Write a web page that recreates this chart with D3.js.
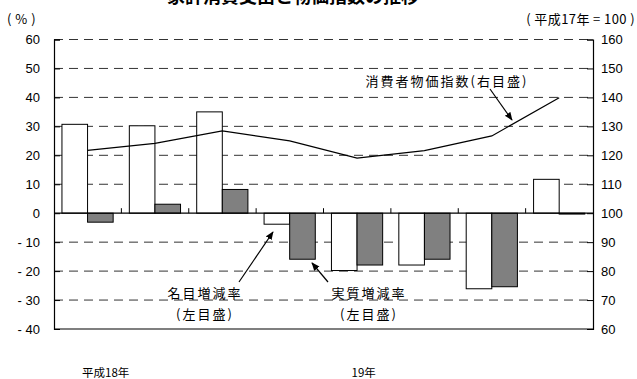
<!DOCTYPE html>
<html>
<head>
<meta charset="utf-8">
<script src="https://cdn.jsdelivr.net/npm/d3@7/dist/d3.min.js"></script>
<style>
  html, body { margin: 0; padding: 0; background: #fff; }
  svg { display: block; }
  text { font-family: "Liberation Sans", Arial, "Noto Sans CJK JP", sans-serif; fill: #000; }
  .jp { font-family: "Noto Sans CJK JP", sans-serif; }
</style>
</head>
<body>
<svg id="chart" width="637" height="379"></svg>
<script>
// Periods (8 quarters), nominal & real change (left axis, %), CPI (right axis, H17=100)
const periods = ["Q1", "Q2", "Q3", "Q4", "Q5", "Q6", "Q7", "Q8"];
const nominalRate = [30.7, 30.2, 35.0, -3.8, -19.8, -17.9, -26.1, 11.7];
const realRate = [-3.1, 3.1, 8.2, -15.9, -17.9, -15.9, -25.4, -0.3];
const cpiIndex = [121.7, 124.1, 128.4, 125.0, 119.0, 121.6, 126.7, 139.9];
const leftTicks = [60, 50, 40, 30, 20, 10, 0, -10, -20, -30, -40];
const rightTicks = [160, 150, 140, 130, 120, 110, 100, 90, 80, 70, 60];
const yearLabels = [{ period: "Q1", text: "平成18年" }, { period: "Q5", text: "19年" }];

const svg = d3.select("#chart");
const m = { left: 54, right: 593, top: 39.5, bottom: 329 };

const x = d3.scaleBand().domain(periods).range([m.left, m.right]).paddingInner(0).paddingOuter(0);
const yL = d3.scaleLinear().domain([-40, 60]).range([m.bottom, m.top]);
const yR = d3.scaleLinear().domain([60, 160]).range([m.bottom, m.top]);

const bw = x.bandwidth();
const barOff = bw * 0.118;
const barW = bw * 0.38;

// title (partly above the page edge)
svg.append("text").attr("class", "jp")
  .attr("x", 293).attr("y", 2.5)
  .attr("text-anchor", "middle")
  .attr("font-size", 18).attr("font-weight", "bold")
  .text("家計消費支出と物価指数の推移");

// unit labels
svg.append("text").attr("class", "jp").attr("x", 7).attr("y", 24)
  .attr("font-size", 13).attr("letter-spacing", 0.5).text("( % )");
svg.append("text").attr("class", "jp").attr("x", 635).attr("y", 24)
  .attr("text-anchor", "end").attr("font-size", 13).attr("letter-spacing", 0.4)
  .text("( 平成17年 = 100 )");

// dashed grid
const grid = svg.append("g");
grid.selectAll("line").data(leftTicks.filter(d => d !== 0 && d !== -40)).join("line")
  .attr("x1", m.left).attr("x2", m.right)
  .attr("y1", d => yL(d)).attr("y2", d => yL(d))
  .attr("stroke", "#333").attr("stroke-width", 1)
  .attr("stroke-dasharray", "9,6");

// left axis
const axL = svg.append("g").attr("transform", `translate(${m.left},0)`)
  .call(d3.axisLeft(yL).tickValues(leftTicks).tickSize(-6).tickPadding(20)
    .tickFormat(d => d < 0 ? "- " + Math.abs(d) : d));
axL.select(".domain").attr("stroke", "#000").attr("stroke-width", 1.2);
axL.selectAll(".tick line").attr("stroke", "#000");
axL.selectAll(".tick text").attr("font-size", 13).attr("x", -14)
  .attr("font-family", "Liberation Sans, Arial, sans-serif");

// right axis
const axR = svg.append("g").attr("transform", `translate(${m.right},0)`)
  .call(d3.axisRight(yR).tickValues(rightTicks).tickSize(-6).tickPadding(10));
axR.select(".domain").attr("stroke", "#000").attr("stroke-width", 1.2);
axR.selectAll(".tick line").attr("stroke", "#000");
axR.selectAll(".tick text").attr("font-size", 13).attr("x", 8)
  .attr("font-family", "Liberation Sans, Arial, sans-serif");

// bottom frame line
svg.append("line").attr("x1", m.left).attr("x2", m.right)
  .attr("y1", yL(-40)).attr("y2", yL(-40)).attr("stroke", "#000").attr("stroke-width", 1.2);

// bars
const bars = svg.append("g");
bars.selectAll("rect.nom").data(periods).join("rect").attr("class", "nom")
  .attr("x", d => x(d) + barOff)
  .attr("width", barW)
  .attr("y", (d, i) => yL(Math.max(0, nominalRate[i])))
  .attr("height", (d, i) => Math.abs(yL(nominalRate[i]) - yL(0)))
  .attr("fill", "#fff").attr("stroke", "#000").attr("stroke-width", 1);
bars.selectAll("rect.real").data(periods).join("rect").attr("class", "real")
  .attr("x", d => x(d) + barOff + barW)
  .attr("width", barW)
  .attr("y", (d, i) => yL(Math.max(0, realRate[i])))
  .attr("height", (d, i) => Math.abs(yL(realRate[i]) - yL(0)))
  .attr("fill", "#808080").attr("stroke", "#000").attr("stroke-width", 1);

// zero line with small ticks at period boundaries
svg.append("line").attr("x1", m.left).attr("x2", m.right)
  .attr("y1", yL(0)).attr("y2", yL(0)).attr("stroke", "#000").attr("stroke-width", 1.3);
svg.append("g").selectAll("line").data(periods.slice(1)).join("line")
  .attr("x1", d => x(d)).attr("x2", d => x(d))
  .attr("y1", yL(0)).attr("y2", yL(0) - 5)
  .attr("stroke", "#000").attr("stroke-width", 1);

// CPI line
const line = d3.line()
  .x((d, i) => x(periods[i]) + barOff + barW)
  .y(d => yR(d));
svg.append("path").datum(cpiIndex).attr("d", line)
  .attr("fill", "none").attr("stroke", "#000").attr("stroke-width", 1.2);

// year labels
svg.append("g").selectAll("text").data(yearLabels).join("text").attr("class", "jp")
  .attr("x", d => x(d.period) + 28).attr("y", 377)
  .attr("font-size", 11.5).text(d => d.text);

// annotations
const defs = svg.append("defs");
defs.append("marker").attr("id", "arr").attr("viewBox", "0 0 10 10")
  .attr("refX", 9).attr("refY", 5).attr("markerWidth", 7).attr("markerHeight", 7)
  .attr("orient", "auto")
  .append("path").attr("d", "M0,1 L10,5 L0,9 z").attr("fill", "#000");

function note(lines, cx, y0, from, to) {
  const t = svg.append("text").attr("class", "jp").attr("text-anchor", "middle")
    .attr("font-size", 13).attr("letter-spacing", 2);
  lines.forEach((s, i) => t.append("tspan").attr("x", cx).attr("y", y0 + i * 21).text(s));
  svg.append("line").attr("x1", from[0]).attr("y1", from[1]).attr("x2", to[0]).attr("y2", to[1])
    .attr("stroke", "#000").attr("stroke-width", 1.2).attr("marker-end", "url(#arr)");
}
note(["消費者物価指数(右目盛)"], 447, 86, [490, 89], [512, 120]);
note(["名目増減率", "(左目盛)"], 205, 298, [239, 282], [273, 232]);
note(["実質増減率", "(左目盛)"], 369, 298, [328, 282], [312, 263]);
</script>
</body>
</html>
